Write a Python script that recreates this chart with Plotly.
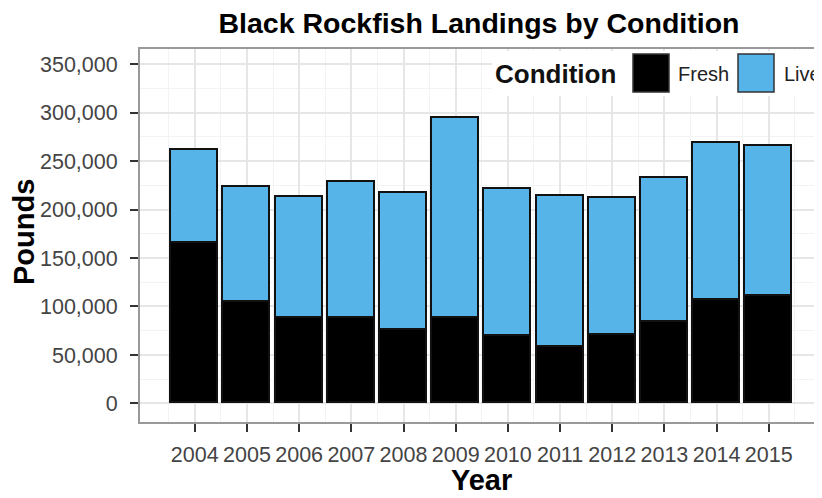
import plotly.graph_objects as go

years = [2004, 2005, 2006, 2007, 2008, 2009, 2010, 2011, 2012, 2013, 2014, 2015]
fresh = [165000, 105000, 88000, 88000, 76000, 88000, 70000, 58000, 71000, 84000, 107000, 111000]
live = [96000, 118000, 125000, 140000, 141000, 206000, 151000, 156000, 141000, 149000, 162000, 155000]
series_names = ["Fresh", "Live"]
series_colors = ["#000000", "#56B4E9"]

FONT = "Liberation Sans, Arial, sans-serif"
TICKC = "#444444"

# the page body has an 8px margin; figure origin sits at (8, 8) in the window
OFF = 8
FIG_W, FIG_H = 822 - OFF, 498 - OFF

fig = go.Figure()
for name, vals, col in zip(series_names, [fresh, live], series_colors):
    fig.add_trace(go.Bar(
        x=years, y=vals, name=name, width=0.9,
        marker=dict(color=col, line=dict(color="#111111", width=1.6)),
        showlegend=False,
    ))

# plot area in window pixels: x 140..822, y 49..422
L, R, T, B = 140, 822, 49, 422
W, H = R - L, B - T
def px(x):
    return (x - L) / W
def py(y):
    return (B - y) / H

shapes = []
annotations = []
legend_boxes = [(633, 669), (738, 774)]
legend_text_x = [676, 782]
shapes.append(dict(type="rect", xref="paper", yref="paper",
                   x0=px(492), x1=1.0, y0=py(96), y1=py(51),
                   fillcolor="white", line=dict(width=0), layer="above"))
for (x0, x1), tx, name, col in zip(legend_boxes, legend_text_x, series_names, series_colors):
    shapes.append(dict(type="rect", xref="paper", yref="paper",
                       x0=px(x0), x1=px(x1), y0=py(92), y1=py(54),
                       fillcolor=col, line=dict(color="#333333", width=1.5), layer="above"))
    annotations.append(dict(text=name, xref="paper", yref="paper", x=px(tx), y=py(74),
                            xanchor="left", yanchor="middle", showarrow=False,
                            font=dict(family=FONT, size=20, color="#222222")))
annotations.append(dict(text="Condition", xref="paper", yref="paper", x=px(618), y=py(74),
                        xanchor="right", yanchor="middle", showarrow=False,
                        font=dict(family=FONT, size=26, color="#111111", weight="bold")))
annotations.append(dict(text="Pounds", xref="paper", yref="paper", x=px(24), y=py(232),
                        xanchor="center", yanchor="middle", textangle=-90, showarrow=False,
                        font=dict(family=FONT, size=29, color="#000000", weight="bold")))
annotations.append(dict(text="Year", xref="paper", yref="paper", x=px(481), y=py(480),
                        xanchor="center", yanchor="middle", showarrow=False,
                        font=dict(family=FONT, size=29, color="#000000", weight="bold")))

fig.update_layout(
    width=FIG_W, height=FIG_H,
    margin=dict(l=L - OFF, r=0, t=T - OFF, b=498 - B, pad=0),
    barmode="stack",
    bargap=0,
    paper_bgcolor="white", plot_bgcolor="white",
    title=dict(text="Black Rockfish Landings by Condition", x=px(479), xref="paper",
               xanchor="center", y=1 - (23 - OFF) / FIG_H, yref="container", yanchor="middle",
               font=dict(family=FONT, size=28.5, color="#000000", weight="bold")),
    shapes=shapes,
    annotations=annotations,
    showlegend=False,
)
fig.update_xaxes(
    range=[2002.95, 2016.02], tickmode="array", tickvals=years, ticktext=[str(y) for y in years],
    showgrid=True, gridcolor="#E6E6E6", gridwidth=1.5,
    minor=dict(tick0=2003.5, dtick=1, showgrid=True, gridcolor="#F3F3F3", gridwidth=1),
    ticks="outside", ticklen=8, tickwidth=1.5, tickcolor="#333333",
    tickfont=dict(family=FONT, size=21.5, color=TICKC), ticklabelstandoff=4,
    showline=True, linecolor="#999999", linewidth=2, mirror=True,
    zeroline=False,
)
fig.update_yaxes(
    range=[-19100, 365500], tick0=0, dtick=50000, tickformat=",",
    showgrid=True, gridcolor="#E6E6E6", gridwidth=1.5,
    minor=dict(tick0=25000, dtick=50000, showgrid=True, gridcolor="#F3F3F3", gridwidth=1),
    ticks="outside", ticklen=8, tickwidth=1.5, tickcolor="#333333",
    tickfont=dict(family=FONT, size=21.5, color=TICKC), ticklabelstandoff=8,
    showline=True, linecolor="#999999", linewidth=2, mirror=False,
    zeroline=False,
)

fig.write_html("out.html")
